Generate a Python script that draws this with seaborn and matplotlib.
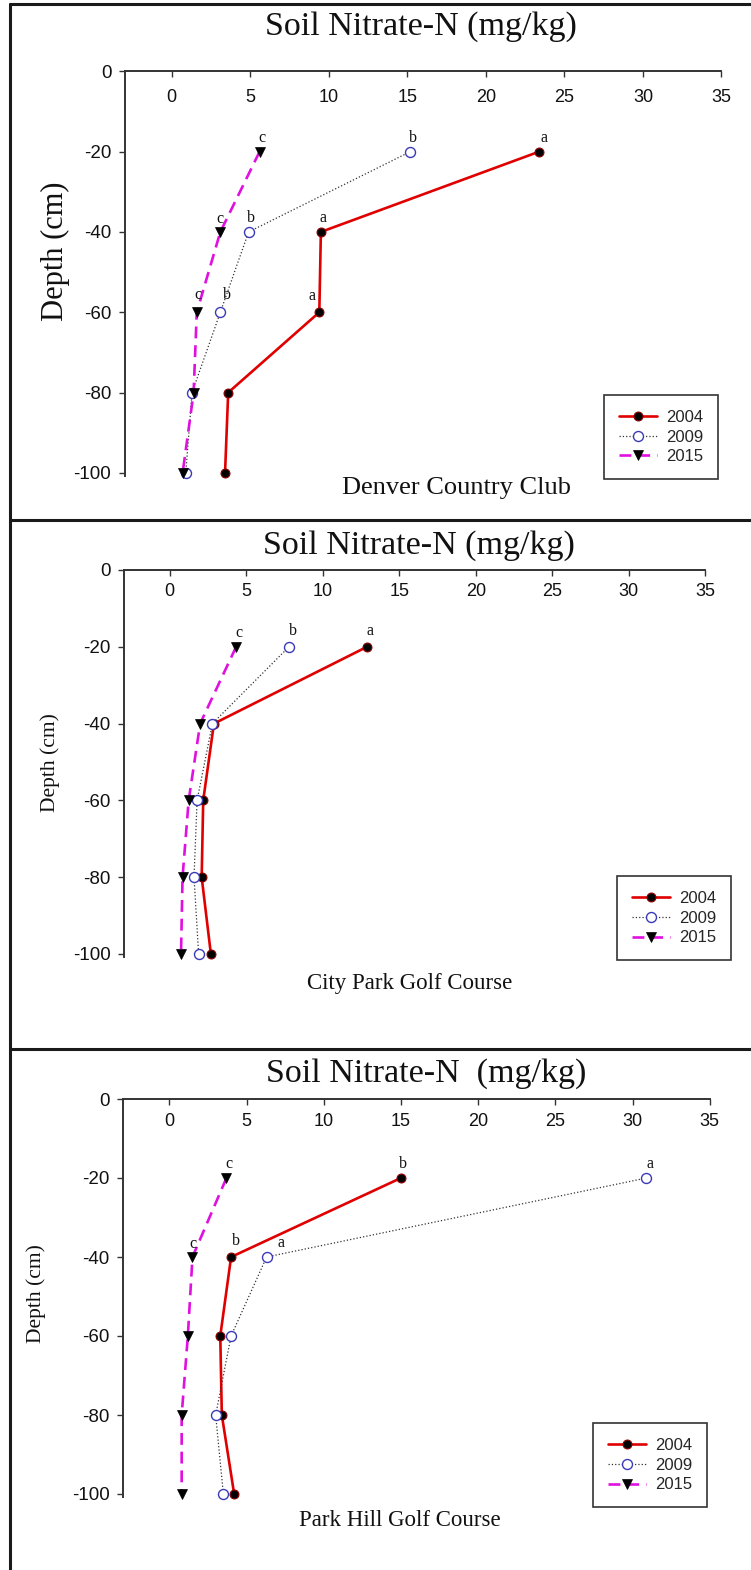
import matplotlib
matplotlib.use("Agg")
import matplotlib.pyplot as plt
from matplotlib.lines import Line2D
import pandas as pd
import seaborn as sns

# ---- data -------------------------------------------------------------
depths = [-20, -40, -60, -80, -100]
years = ["2004", "2009", "2015"]

sites = ["Denver Country Club", "City Park Golf Course", "Park Hill Golf Course"]
titles = ["Soil Nitrate-N (mg/kg)", "Soil Nitrate-N (mg/kg)", "Soil Nitrate-N  (mg/kg)"]

dcc_2004 = [23.4, 9.5, 9.4, 3.6, 3.4]
dcc_2009 = [15.2, 4.9, 3.1, 1.3, 0.9]
dcc_2015 = [5.6, 3.1, 1.6, 1.4, 0.7]

cp_2004 = [12.9, 2.9, 2.2, 2.1, 2.7]
cp_2009 = [7.8, 2.8, 1.8, 1.6, 1.9]
cp_2015 = [4.35, 2.0, 1.25, 0.85, 0.75]

ph_2004 = [15.0, 4.0, 3.3, 3.4, 4.2]
ph_2009 = [30.9, 6.3, 4.0, 3.0, 3.5]
ph_2015 = [3.7, 1.5, 1.2, 0.8, 0.8]

# significance letters (by depth; "" = none)
dcc_letters = {"2004": ["a", "a", "a", "", ""],
               "2009": ["b", "b", "b", "", ""],
               "2015": ["c", "c", "c", "", ""]}
cp_letters = {"2004": ["a", "", "", "", ""],
              "2009": ["b", "", "", "", ""],
              "2015": ["c", "", "", "", ""]}
ph_letters = {"2004": ["b", "b", "", "", ""],
              "2009": ["a", "a", "", "", ""],
              "2015": ["c", "c", "", "", ""]}

x_ticks = [0, 5, 10, 15, 20, 25, 30, 35]
y_ticks = [0, -20, -40, -60, -80, -100]

series = [
    {"2004": dcc_2004, "2009": dcc_2009, "2015": dcc_2015},
    {"2004": cp_2004, "2009": cp_2009, "2015": cp_2015},
    {"2004": ph_2004, "2009": ph_2009, "2015": ph_2015},
]
letters = [dcc_letters, cp_letters, ph_letters]

# ---- styling ----------------------------------------------------------
sns.set_theme(style="white")
plt.rcParams["font.family"] = ["Liberation Sans", "DejaVu Sans"]
plt.rcParams["axes.unicode_minus"] = False
SERIF = ["Liberation Serif", "DejaVu Serif"]

styles = {
    "2004": dict(color="#e00000", linestyle="-", linewidth=1.9, marker="o",
                 markersize=6.4, markerfacecolor="black",
                 markeredgecolor="#900000", markeredgewidth=0.8),
    "2009": dict(color="#333333", linestyle=":", linewidth=0.9, marker="o",
                 markersize=7.2, markerfacecolor="white",
                 markeredgecolor="#3a3ab8", markeredgewidth=1.0),
    "2015": dict(color="#e010e0", linestyle=(0, (4.5, 2.6)), linewidth=1.9,
                 marker="v", markersize=7.6, markerfacecolor="black",
                 markeredgecolor="black", markeredgewidth=0.5),
}

W, H = 751, 1570
fig = plt.figure(figsize=(W / 100, H / 100), dpi=100)

# panel geometry in pixels: left spine, top spine, px per x unit, px per y unit
panels = [
    dict(left=124.5, top=71.3, xppu=15.71, yppu=4.016, tickpad=26,
         ylab=(55, 251, 22), title=(421, 27), site=(457, 488, 19),
         legend=(604, 395)),
    dict(left=123.6, top=570.0, xppu=15.31, yppu=3.84, tickpad=22,
         ylab=(50, 763, 15.5), title=(419, 546), site=(410, 983, 16.5),
         legend=(617, 876)),
    dict(left=123.0, top=1099.0, xppu=15.44, yppu=3.95, tickpad=22,
         ylab=(36, 1294, 15.5), title=(426, 1074), site=(400, 1520, 16.5),
         legend=(593, 1423)),
]

# label offsets (pixels) for individual letters: (panel, year, depth index)
letter_shift = {
    (0, "2004", 0): (5, 14), (0, "2004", 2): (-7, 16),
    (0, "2009", 2): (7, 17), (0, "2015", 2): (1.5, 17),
    (0, "2015", 1): (0, 13),
    (1, "2009", 0): (4, 16), (1, "2004", 0): (2.5, 16),
    (2, "2004", 1): (5, 16), (2, "2009", 1): (14, 14), (2, "2015", 1): (0, 13),
    (2, "2009", 0): (3.5, 14.5),
}

XLIM = (-3, 35)
YLIM = (-100.8, 0)

for i, p in enumerate(panels):
    width = (XLIM[1] - XLIM[0]) * p["xppu"]
    height = (YLIM[1] - YLIM[0]) * p["yppu"]
    ax = fig.add_axes([p["left"] / W, (H - p["top"] - height) / H,
                      width / W, height / H])
    ax.set_facecolor("none")

    for yr in years:
        df = pd.DataFrame({"value": series[i][yr], "depth": depths})
        sns.lineplot(data=df, x="value", y="depth", orient="y", sort=False,
                     estimator=None, ax=ax, label=yr, clip_on=False,
                     **styles[yr])
        for j, (v, d) in enumerate(zip(series[i][yr], depths)):
            lt = letters[i][yr][j]
            if lt:
                dx, dy = letter_shift.get((i, yr, j), (2.5, 13.5))
                ax.annotate(lt, (v, d), xytext=(dx, dy),
                            textcoords="offset pixels", ha="center",
                            va="center", fontsize=11.5, family=SERIF,
                            color="#111111")

    ax.set_xlim(*XLIM)
    ax.set_ylim(*YLIM)
    ax.set_xticks(x_ticks)
    ax.set_yticks(y_ticks)
    ax.set_xlabel("")
    ax.set_ylabel("")

    for s in ["right", "bottom"]:
        ax.spines[s].set_visible(False)
    for s in ["left", "top"]:
        ax.spines[s].set_color("#333333")
        ax.spines[s].set_linewidth(1.4)

    ax.xaxis.tick_top()
    ax.tick_params(axis="x", which="both", direction="in", length=4.5,
                   width=1.0, colors="#333333", labelsize=13,
                   labelcolor="#111111", pad=-p["tickpad"] * 0.72)
    for t in ax.xaxis.get_major_ticks():
        t.label2.set_verticalalignment("center")
    ax.tick_params(axis="y", direction="out", length=4.5, width=1.0,
                   colors="#333333", labelsize=13.5, labelcolor="#111111",
                   pad=5, left=True)

    # axis title on the left
    fig.text(p["ylab"][0] / W, 1 - p["ylab"][1] / H, "Depth (cm)",
             rotation=90, ha="center", va="center", family=SERIF,
             fontsize=p["ylab"][2], color="#111111")
    # panel title and site name
    fig.text(p["title"][0] / W, 1 - p["title"][1] / H, titles[i],
             ha="center", va="center", family=SERIF, fontsize=24.5,
             color="#111111")
    fig.text(p["site"][0] / W, 1 - p["site"][1] / H, sites[i],
             ha="center", va="center", family=SERIF, fontsize=p["site"][2],
             color="#111111")

    leg = ax.legend(loc="upper left",
                    bbox_to_anchor=(p["legend"][0] / W, 1 - p["legend"][1] / H),
                    bbox_transform=fig.transFigure, fontsize=12,
                    frameon=True, fancybox=False, framealpha=1,
                    edgecolor="#333333", borderpad=0.9, labelspacing=0.28,
                    handlelength=2.3, handletextpad=0.5, borderaxespad=0)
    leg.get_frame().set_linewidth(1.2)

# outer frame and panel separators
frame_kw = dict(color="#1a1a1a", linewidth=2.2, transform=fig.transFigure)
fig.add_artist(Line2D([10 / W, 10 / W], [0, 1 - 4 / H], **frame_kw))
for yy in [4, 520, 1049]:
    fig.add_artist(Line2D([10 / W, 1], [1 - yy / H, 1 - yy / H], **frame_kw))

fig.savefig("out.png", dpi=100, facecolor="white")
